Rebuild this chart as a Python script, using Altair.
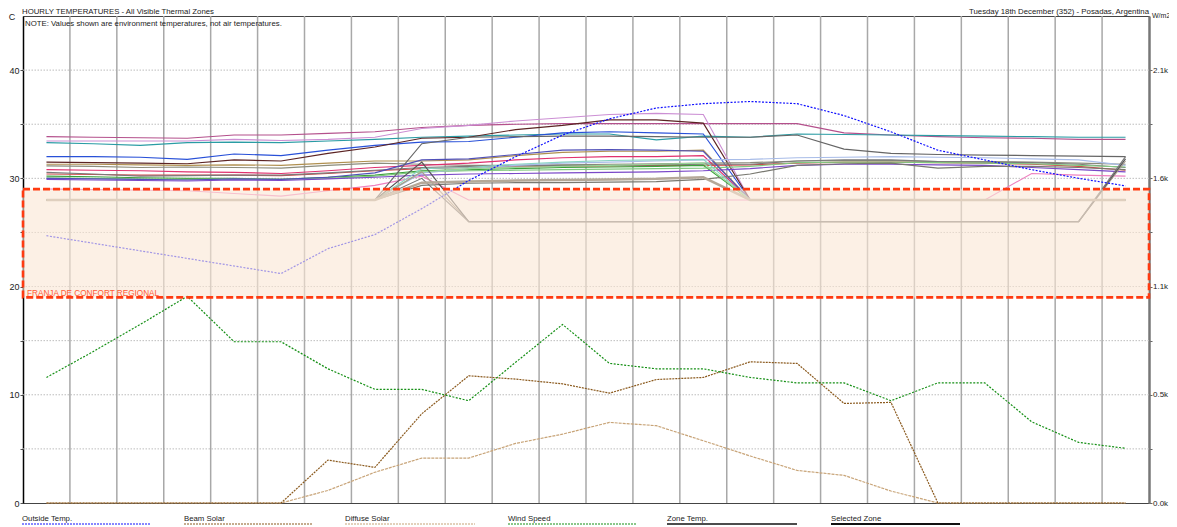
import altair as alt
import pandas as pd

# ---------------- data ----------------
HOURS = list(range(24))

OUTSIDE_TEMP = [24.7, 24.0, 23.3, 22.6, 21.9, 21.2, 23.5, 24.8, 27.2, 29.8, 32.0, 34.0,
                35.5, 36.5, 36.9, 37.1, 36.9, 35.8, 34.3, 32.6, 31.7, 30.8, 30.0, 29.3]
WIND_SPEED = [11.6, 14.0, 16.5, 19.1, 14.9, 14.9, 12.4, 10.5, 10.5, 9.45, 13.0, 16.5,
              12.9, 12.4, 12.4, 11.6, 11.1, 11.1, 9.45, 11.1, 11.1, 7.5, 5.6, 5.05]
BEAM_SOLAR = [0, 0, 0, 0, 0, 0, 208, 173, 433, 617, 601, 578,
              533, 599, 609, 685, 677, 483, 488, 0, 0, 0, 0, 0]
DIFFUSE_SOLAR = [0, 0, 0, 0, 0, 0, 61, 149, 218, 218, 289, 334,
                 391, 375, 302, 228, 158, 134, 58, 0, 0, 0, 0, 0]

ZONE_TEMPS = {
    "Zone 01": [33.85, 33.8, 33.75, 33.7, 34.0, 34.0, 34.15, 34.3, 34.7, 34.9, 35.0, 35.05,
                35.05, 35.05, 35.05, 35.05, 35.05, 34.2, 34.0, 33.85, 33.75, 33.7, 33.6, 33.6],
    "Zone 02": [33.45, 33.45, 33.45, 33.45, 33.6, 33.5, 33.6, 33.8, 34.6, 34.9, 35.3, 35.6,
                35.9, 36.0, 35.9, 28, 28, 28, 28, 28, 28, 28, 28, 28],
    "Zone 03": [33.3, 33.2, 33.05, 33.3, 33.35, 33.3, 33.45, 33.6, 33.8, 33.9, 34.0, 34.1,
                34.1, 33.55, 33.9, 33.8, 34.1, 34.05, 34.0, 33.95, 33.9, 33.85, 33.8, 33.8],
    "Zone 04": [32.0, 32.0, 31.95, 31.75, 32.25, 32.1, 32.6, 33.05, 33.35, 33.4, 33.8, 34.2,
                34.3, 34.2, 34.1, 28, 28, 28, 28, 28, 28, 28, 28, 28],
    "Zone 05": [31.5, 31.45, 31.4, 31.35, 31.7, 31.6, 32.3, 32.9, 33.7, 33.8, 34.5, 34.9,
                35.4, 35.4, 35.1, 28, 28, 28, 28, 28, 28, 28, 28, 28],
    "Zone 06": [31.3, 31.3, 31.25, 31.2, 31.25, 31.2, 31.4, 31.6, 31.6, 31.7, 32.1, 32.4,
                32.5, 32.5, 32.6, 28, 28, 28, 28, 28, 28, 28, 28, 28],
    "Zone 07": [31.15, 31.1, 31.0, 31.05, 31.0, 30.95, 31.2, 31.4, 31.3, 31.2, 31.2, 31.25,
                31.3, 31.35, 31.4, 31.45, 31.6, 31.65, 31.65, 31.55, 31.55, 31.5, 31.4, 31.3],
    "Zone 08": [30.8, 30.75, 30.7, 30.6, 30.55, 30.45, 30.7, 31.0, 31.2, 31.4, 31.7, 31.9,
                32.0, 32.0, 32.1, 28, 28, 28, 28, 28, 28, 28, 28, 28],
    "Zone 09": [30.4, 30.35, 30.3, 30.3, 30.3, 30.25, 30.45, 30.7, 30.9, 31.0, 31.05, 31.1,
                31.15, 31.2, 31.2, 31.25, 31.4, 31.5, 31.5, 31.45, 31.4, 31.3, 31.1, 30.75],
    "Zone 10": [30.55, 30.4, 30.2, 30.25, 30.3, 30.3, 30.5, 30.75, 31.0, 31.1, 31.15, 31.2,
                31.2, 31.25, 31.3, 31.3, 31.6, 31.7, 31.7, 31.55, 31.5, 31.45, 31.3, 31.0],
    "Zone 11": [30.2, 30.15, 30.05, 30.0, 30.0, 29.9, 30.1, 30.3, 30.7, 30.8, 30.9, 31.0,
                31.05, 31.1, 31.2, 28, 28, 28, 28, 28, 28, 28, 28, 28],
    "Zone 12": [30.05, 30.0, 29.95, 29.9, 29.95, 29.9, 30.0, 30.2, 30.6, 30.7, 30.75, 30.8,
                30.85, 30.9, 30.95, 31.1, 31.45, 31.5, 31.5, 31.45, 31.4, 31.35, 31.2, 31.05],
    "Zone 13": [30.0, 29.95, 29.9, 29.85, 29.95, 29.9, 30.1, 30.5, 31.7, 31.8, 32.2, 32.6,
                32.65, 32.6, 32.5, 28, 28, 28, 28, 28, 28, 28, 28, 28],
    "Zone 14": [29.9, 29.85, 29.8, 29.75, 29.85, 29.8, 29.95, 30.1, 30.3, 30.4, 30.45, 30.5,
                30.55, 30.6, 30.7, 30.9, 31.2, 31.3, 31.3, 31.25, 31.2, 31.0, 30.8, 30.6],
    "Zone 15": [29.0, 28.95, 28.9, 28.85, 28.6, 28.35, 28.85, 29.35, 30.2, 28, 28, 28,
                28, 28, 28, 28, 28, 28, 28, 28, 28, 30.45, 30.3, 30.2],
    "Zone 16": [28, 28, 28, 28, 28, 28, 28, 28, 33.2, 33.8, 33.85, 33.9,
                33.9, 33.85, 33.8, 33.8, 34.0, 32.7, 32.3, 32.2, 32.15, 32.1, 32.05, 32.0],
    "Zone 17": [28, 28, 28, 28, 28, 28, 28, 28, 30.5, 30.9, 31.2, 31.4,
                31.5, 31.6, 31.7, 31.75, 31.9, 31.95, 32.0, 31.95, 31.9, 31.8, 31.7, 31.2],
    "Zone 18": [28, 28, 28, 28, 28, 28, 28, 28, 29.35, 29.55, 29.6, 29.6,
                29.65, 29.7, 29.9, 30.4, 31.2, 31.35, 31.4, 30.95, 31.1, 31.1, 31.0, 30.8],
    "Zone 19": [28, 28, 28, 28, 28, 28, 28, 28, 30.9, 31.0, 31.3, 31.5,
                31.65, 31.7, 31.75, 28, 28, 28, 28, 28, 28, 28, 28, 28],
    "Zone 20": [28, 28, 28, 28, 28, 28, 28, 28, 30.6, 30.9, 31.0, 31.1,
                31.2, 31.3, 31.4, 28, 28, 28, 28, 28, 28, 28, 28, 28],
    "Zone 21": [28, 28, 28, 28, 28, 28, 28, 28, 30.6, 26, 26, 26,
                26, 26, 26, 26, 26, 26, 26, 26, 26, 26, 26, 31.6],
    "Zone 22": [28, 28, 28, 28, 28, 28, 28, 28, 31.5, 26, 26, 26,
                26, 26, 26, 26, 26, 26, 26, 26, 26, 26, 26, 31.8],
    "Zone 23": [28, 28, 28, 28, 28, 28, 28, 28, 30.0, 26, 26, 26,
                26, 26, 26, 26, 26, 26, 26, 26, 26, 26, 26, 32.0],
}
SELECTED_ZONE = [28, 28, 28, 28, 28, 28, 28, 28, 29.6, 29.7, 29.8, 29.85,
                 29.9, 29.95, 30.1, 28, 28, 28, 28, 28, 28, 28, 28, 28]

ZONE_COLORS = ["#b4508c", "#cc8fd4", "#2a9ca4", "#2850d8", "#5c2424", "#b09050",
               "#8c8c7c", "#e0306e", "#d04848", "#7a7a7a", "#3ca03c", "#80c880",
               "#5050b8", "#7a48c8", "#ee80c0", "#666666", "#a8bce8", "#787870",
               "#88d4c4", "#98d898", "#a89c8c", "#555555", "#777777"]

COMFORT_LOW, COMFORT_HIGH = 19, 29
GRID_TEMPS = [5, 10, 15, 20, 25, 30, 35, 40]
GRID_HOURS = [h + 0.5 for h in range(23)]
Y_TICKS = [0, 5, 10, 15, 20, 25, 30, 35, 40]
W_TICKS = [0, 262.5, 525, 787.5, 1050, 1312.5, 1575, 1837.5, 2100]

TITLE = "HOURLY TEMPERATURES - All Visible Thermal Zones"
NOTE = "NOTE: Values shown are environment temperatures, not air temperatures."
RIGHT_TITLE = "Tuesday 18th December (352) - Posadas, Argentina"
BAND_LABEL = "FRANJA DE CONFORT REGIONAL"
LEGEND = ["Outside Temp.", "Beam Solar", "Diffuse Solar", "Wind Speed", "Zone Temp.", "Selected Zone"]

# ---------------- layout / style ----------------
W, H = 1126, 487
FONT = "Liberation Sans, Arial, sans-serif"
TS = 7.8

xs = alt.Scale(domain=[-0.5, 23.5], nice=False, zero=False)
ys = alt.Scale(domain=[0, 45], nice=False, zero=False)
yr = alt.Scale(domain=[0, 2362.5], nice=False, zero=False)

one = alt.Data(values=[{"a": 1}])


def txt(s, x, y, size=TS, color="#222222", align="left", baseline="alphabetic"):
    return alt.Chart(one).mark_text(text=s, font=FONT, fontSize=size, color=color,
                                    align=align, baseline=baseline).encode(
        x=alt.value(x), y=alt.value(y))


def seg(x0, x1, y, color, dash=None, width=1.2):
    kw = dict(color=color, strokeWidth=width)
    if dash:
        kw["strokeDash"] = dash
    return alt.Chart(one).mark_rule(**kw).encode(x=alt.value(x0), x2=alt.value(x1), y=alt.value(y))


hgrid = alt.Chart(pd.DataFrame({"t": GRID_TEMPS})).mark_rule(
    color="#bdbdbd", strokeDash=[1.5, 1.5], strokeWidth=1).encode(
    y=alt.Y("t:Q", scale=ys, axis=alt.Axis(
        values=Y_TICKS, labelExpr="datum.value % 10 == 0 ? datum.value : ''",
        title=None, grid=False, domainColor="#000000", domainWidth=1.5,
        tickColor="#555555", tickSize=3, labelFont=FONT, labelFontSize=9,
        labelColor="#222222", labelPadding=1)))

vgrid = alt.Chart(pd.DataFrame({"h": GRID_HOURS})).mark_rule(
    color="#a8a8a8", strokeWidth=1.5).encode(
    x=alt.X("h:Q", scale=xs, axis=alt.Axis(
        values=HOURS, labelExpr="datum.value % 2 == 0 ? datum.value : ''",
        title=None, grid=False, domainColor="#6a6a6a", domainWidth=2.5,
        tickColor="#6a6a6a", tickSize=3, labelFont=FONT, labelFontSize=9,
        labelColor="#222222", labelPadding=1)))

zone_rows = []
for name, vals in ZONE_TEMPS.items():
    for h, v in zip(HOURS, vals):
        zone_rows.append({"hour": h, "zone": name, "temp": v})
zones = alt.Chart(pd.DataFrame(zone_rows)).mark_line(strokeWidth=1.15).encode(
    x=alt.X("hour:Q", scale=xs, axis=None),
    y=alt.Y("temp:Q", scale=ys, axis=None),
    color=alt.Color("zone:N", scale=alt.Scale(domain=list(ZONE_TEMPS.keys()), range=ZONE_COLORS),
                    legend=None))

selected = alt.Chart(pd.DataFrame({"hour": HOURS, "temp": SELECTED_ZONE})).mark_line(
    color="#b4a898", strokeWidth=2.5).encode(
    x=alt.X("hour:Q", scale=xs, axis=None), y=alt.Y("temp:Q", scale=ys, axis=None))

outside = alt.Chart(pd.DataFrame({"hour": HOURS, "temp": OUTSIDE_TEMP})).mark_line(
    color="#1010ff", strokeWidth=1.2, strokeDash=[2, 1.5]).encode(
    x=alt.X("hour:Q", scale=xs, axis=None), y=alt.Y("temp:Q", scale=ys, axis=None))

wind = alt.Chart(pd.DataFrame({"hour": HOURS, "speed": WIND_SPEED})).mark_line(
    color="#169016", strokeWidth=1.2, strokeDash=[2, 1.5]).encode(
    x=alt.X("hour:Q", scale=xs, axis=None), y=alt.Y("speed:Q", scale=ys, axis=None))

band_df = pd.DataFrame({"lo": [COMFORT_LOW], "hi": [COMFORT_HIGH]})
band_fill = alt.Chart(band_df).mark_rect(color="#fae6d5", opacity=0.62).encode(
    x=alt.value(0), x2=alt.value(W),
    y=alt.Y("lo:Q", scale=ys, axis=None), y2="hi:Q")
band_border = alt.Chart(band_df).mark_rect(
    fill="#ffffff", fillOpacity=0, stroke="#ff3a10", strokeWidth=2.6, strokeDash=[7, 3]).encode(
    x=alt.value(0), x2=alt.value(W),
    y=alt.Y("lo:Q", scale=ys, axis=None), y2="hi:Q")

beam = alt.Chart(pd.DataFrame({"hour": HOURS, "w": BEAM_SOLAR})).mark_line(
    color="#8b5a1e", strokeWidth=1.2, strokeDash=[2, 1]).encode(
    x=alt.X("hour:Q", scale=xs, axis=None),
    y=alt.Y("w:Q", scale=yr, axis=alt.Axis(
        orient="right", values=W_TICKS,
        labelExpr="datum.value % 525 == 0 ? format(datum.value / 1000, '.1f') + 'k' : ''",
        title=None, grid=False, domainColor="#777777", domainWidth=2.5,
        tickColor="#666666", tickSize=3, labelFont=FONT, labelFontSize=8,
        labelColor="#222222", labelPadding=0.5)))

diffuse = alt.Chart(pd.DataFrame({"hour": HOURS, "w": DIFFUSE_SOLAR})).mark_line(
    color="#c8a478", strokeWidth=1.2, strokeDash=[3, 1]).encode(
    x=alt.X("hour:Q", scale=xs, axis=None), y=alt.Y("w:Q", scale=yr, axis=None))

chart = alt.layer(
    hgrid, vgrid, diffuse, beam, zones, selected, outside, wind, band_fill, band_border,
    txt(BAND_LABEL, 4, 280, size=8.2, color="#ff5a36"),
    txt("C", -11, 1, size=9, align="center", baseline="middle"),
    txt(TITLE, -1, -2),
    txt(NOTE, 2, 10),
    txt(RIGHT_TITLE, W, -2, align="right"),
    txt("W/m2", W + 3, 0, size=7, baseline="middle"),
    txt(LEGEND[0], -1, 505), seg(-1, 128, 508, "#1010ff", [2, 1]),
    txt(LEGEND[1], 161, 505), seg(161, 290, 508, "#8b5a1e", [2, 1]),
    txt(LEGEND[2], 322, 505), seg(322, 452, 508, "#c8a478", [2, 1]),
    txt(LEGEND[3], 485, 505), seg(485, 613, 508, "#169016", [2, 1]),
    txt(LEGEND[4], 644, 505), seg(644, 774, 508, "#111111", None, 1.4),
    txt(LEGEND[5], 808, 505), seg(808, 937, 508, "#111111", None, 2),
).resolve_scale(y="independent").properties(
    width=W, height=H,
    autosize=alt.AutoSizeParams(type="none"),
    padding={"left": 15, "top": 8, "right": 20, "bottom": 23},
    background="#ffffff",
).configure_view(stroke="#444444", strokeWidth=1)

chart.save("out.html", embed_options={"renderer": "svg", "actions": False})
